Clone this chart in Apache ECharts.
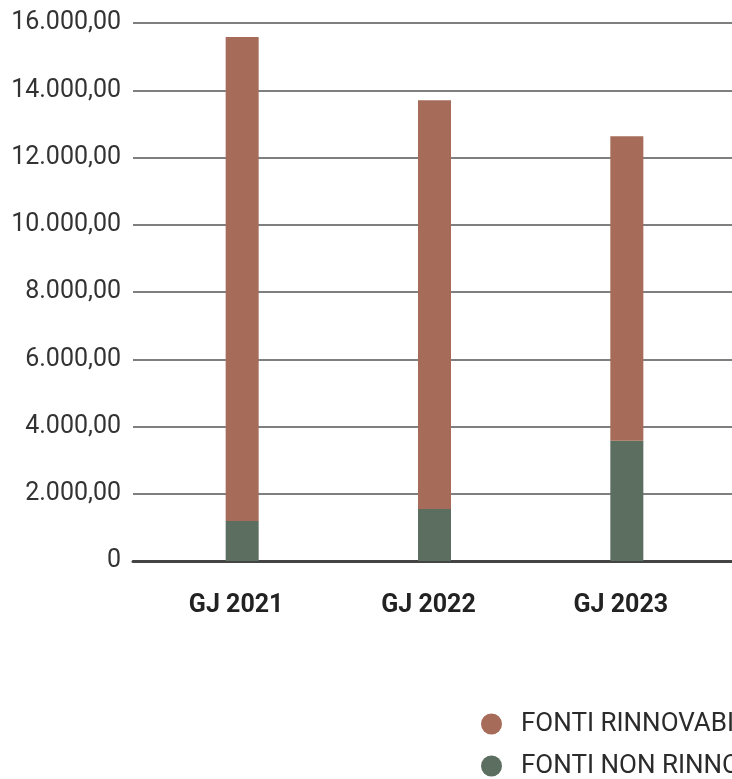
<!DOCTYPE html>
<html>
<head>
<meta charset="utf-8">
<script src="https://cdn.jsdelivr.net/npm/echarts@6/dist/echarts.min.js"></script>
<style>
  html, body { margin: 0; padding: 0; background: #fff; }
  #chart { width: 732px; height: 779px; }
</style>
</head>
<body>
<div id="chart"></div>
<script>
// dati
const categories = ['GJ 2021', 'GJ 2022', 'GJ 2023']
const nonRinnovabili = [1190, 1550, 3575]
const rinnovabili = [14390, 12155, 9060]
const yTicks = [0, 2000, 4000, 6000, 8000, 10000, 12000, 14000, 16000]
const legendNames = ['FONTI RINNOVABILI', 'FONTI NON RINNOVABILI']

const fmt = (v) => {
  if (v === 0) return '0'
  return v.toLocaleString('de-DE', { minimumFractionDigits: 2, maximumFractionDigits: 2 })
}

const chart = echarts.init(document.getElementById('chart'), null, { renderer: 'canvas' })

// una legenda per riga, così non va a capo fuori dal canvas
const legendRow = (name, top) => ({
  orient: 'vertical',
  left: 481,
  top: top,
  padding: 0,
  icon: 'circle',
  itemWidth: 21,
  itemHeight: 21,
  data: [name],
  textStyle: {
    fontSize: 26,
    color: '#2b2b2b',
    fontFamily: 'Roboto',
    padding: [0, 0, 0, 14]
  }
})

chart.setOption({
  animation: false,
  textStyle: { fontFamily: 'Roboto' },
  grid: [
    // griglia per linee e etichette asse Y
    { left: 133, right: 0, top: 23, bottom: 218 },
    // griglia per le barre
    { left: 146, right: 9, top: 23, bottom: 218 }
  ],
  legend: [
    legendRow(legendNames[0], 711),
    legendRow(legendNames[1], 753)
  ],
  xAxis: [
    {
      gridIndex: 0,
      type: 'category',
      data: categories,
      axisLine: { show: true, lineStyle: { color: '#444', width: 3 } },
      axisTick: { show: false },
      axisLabel: { show: false }
    },
    {
      gridIndex: 1,
      type: 'category',
      data: categories,
      axisLine: { show: false },
      axisTick: { show: false },
      axisLabel: {
        margin: 32,
        fontSize: 25,
        fontWeight: 'bold',
        color: '#222',
        padding: [0, 12, 0, 0]
      }
    }
  ],
  yAxis: [
    {
      gridIndex: 0,
      type: 'value',
      min: yTicks[0],
      max: yTicks[yTicks.length - 1],
      interval: 2000,
      axisLine: { show: false },
      axisTick: { show: false },
      axisLabel: {
        margin: 12,
        fontSize: 25,
        color: '#333',
        formatter: fmt
      },
      splitLine: { show: true, lineStyle: { color: '#555', width: 1.5 } }
    },
    {
      gridIndex: 1,
      type: 'value',
      min: yTicks[0],
      max: yTicks[yTicks.length - 1],
      interval: 2000,
      show: false,
      splitLine: { show: false }
    }
  ],
  series: [
    {
      name: legendNames[1],
      type: 'bar',
      stack: 'tot',
      xAxisIndex: 1,
      yAxisIndex: 1,
      barWidth: 33,
      data: nonRinnovabili,
      itemStyle: { color: '#5C6E60' }
    },
    {
      name: legendNames[0],
      type: 'bar',
      stack: 'tot',
      xAxisIndex: 1,
      yAxisIndex: 1,
      barWidth: 33,
      data: rinnovabili,
      itemStyle: { color: '#A76C59' }
    }
  ]
})
</script>
</body>
</html>
